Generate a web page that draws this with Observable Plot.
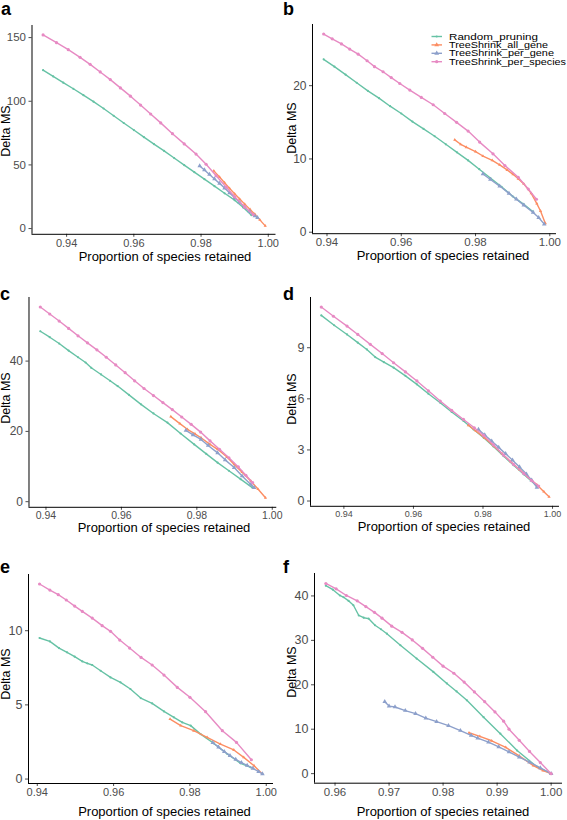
<!DOCTYPE html>
<html><head><meta charset="utf-8">
<script src="https://cdn.jsdelivr.net/npm/d3@7"></script>
<script src="https://cdn.jsdelivr.net/npm/@observablehq/plot@0.6"></script>
<style>
body{margin:0;background:#fff;}
#fig{position:relative;width:567px;height:820px;overflow:hidden;background:#fff;font-family:"Liberation Sans",Arial,Helvetica,sans-serif;}
#fig svg{position:absolute;}
</style></head><body><div id="fig"></div>
<script>
const seriesNames = ["Random_pruning","TreeShrink_all_gene","TreeShrink_per_gene","TreeShrink_per_species"];
const seriesColors = ["#66C2A5","#FC8D62","#8DA0CB","#E78AC3"];
const panelLetters = ["a","b","c","d","e","f"];
const xTitle = "Proportion of species retained";
const yTitle = "Delta MS";
const xTicksMain = [0.94,0.96,0.98,1.00];
const xTicksF = [0.96,0.97,0.98,0.99,1.00];
const yTicksA = [0,50,100,150];
const yTicksB = [0,10,20];
const yTicksC = [0,20,40];
const yTicksD = [0,3,6,9];
const yTicksE = [0,5,10];
const yTicksF = [0,10,20,30,40];

// ---- panel a ----
const a_random = [[0.9330,124.4],[0.9360,119.5],[0.9390,114.6],[0.9420,109.8],[0.9450,104.8],[0.9480,99.7],[0.9510,94.3],[0.9540,88.6],[0.9570,82.9],[0.9600,77.4],[0.9630,71.8],[0.9660,66.3],[0.9690,61.0],[0.9720,55.4],[0.9750,49.8],[0.9780,44.3],[0.9810,38.8],[0.9840,33.3],[0.9870,27.7],[0.9900,22.3],[0.9925,16.8],[0.9950,10.5]];
const a_allgene = [[0.9838,45.3],[0.9855,40.5],[0.9870,36.0],[0.9885,31.5],[0.9900,27.3],[0.9915,23.2],[0.9930,19.2],[0.9946,15.0],[0.9960,11.3],[0.9975,6.8],[0.9991,2.1]];
const a_pergene = [[0.9796,49.2],[0.9810,46.0],[0.9825,42.5],[0.9840,39.0],[0.9855,35.5],[0.9870,31.8],[0.9885,28.0],[0.9900,24.2],[0.9915,20.5],[0.9930,16.8],[0.9945,13.2],[0.9960,10.0],[0.9968,8.5]];
const a_species = [[0.9330,152.1],[0.9370,146.0],[0.9405,140.5],[0.9440,134.5],[0.9470,129.0],[0.9500,123.0],[0.9530,117.0],[0.9560,110.5],[0.9590,104.0],[0.9620,97.0],[0.9650,90.0],[0.9680,83.0],[0.9715,74.5],[0.9750,66.5],[0.9785,58.5],[0.9815,50.5],[0.9845,41.5],[0.9875,32.5],[0.9900,25.0],[0.9930,17.0],[0.9955,11.0]];

// ---- panel b ----
const b_random = [[0.9391,23.6],[0.9420,22.6],[0.9450,21.5],[0.9480,20.4],[0.9510,19.3],[0.9540,18.3],[0.9570,17.2],[0.9600,16.2],[0.9630,15.1],[0.9660,14.1],[0.9690,13.1],[0.9720,12.0],[0.9750,10.9],[0.9780,9.8],[0.9810,8.6],[0.9840,7.4],[0.9870,6.2],[0.9900,4.9],[0.9930,3.8],[0.9955,2.8]];
const b_allgene = [[0.9744,12.6],[0.9760,12.0],[0.9775,11.6],[0.9800,11.0],[0.9820,10.4],[0.9845,9.8],[0.9865,9.2],[0.9885,8.5],[0.9901,7.9],[0.9915,7.3],[0.9930,6.6],[0.9950,5.3],[0.9965,3.9],[0.9975,2.9],[0.9988,1.2]];
const b_pergene = [[0.9820,7.95],[0.9840,7.2],[0.9865,6.3],[0.9890,5.3],[0.9910,4.5],[0.9930,3.7],[0.9955,2.7],[0.9970,2.0],[0.9985,1.1]];
const b_species = [[0.9391,27.05],[0.9414,26.4],[0.9439,25.7],[0.9461,25.0],[0.9484,24.3],[0.9508,23.4],[0.9528,22.6],[0.9551,21.9],[0.9573,21.1],[0.9596,20.3],[0.9623,19.4],[0.9654,18.4],[0.9686,17.4],[0.9717,16.2],[0.9749,15.0],[0.9780,13.8],[0.9811,12.3],[0.9847,10.7],[0.9879,9.1],[0.9915,7.5],[0.9942,5.9],[0.9964,4.5]];

// ---- panel c ----
const c_random = [[0.9385,48.5],[0.9410,46.8],[0.9435,45.0],[0.9460,43.0],[0.9485,41.1],[0.9505,39.6],[0.9520,38.1],[0.9546,36.2],[0.9570,34.4],[0.9590,32.9],[0.9620,30.4],[0.9652,27.7],[0.9685,25.1],[0.9722,22.5],[0.9757,19.4],[0.9793,16.3],[0.9825,13.6],[0.9855,11.1],[0.9885,8.8],[0.9916,6.4],[0.9947,4.0]];
const c_allgene = [[0.9731,24.2],[0.9755,22.2],[0.9775,20.6],[0.9795,19.3],[0.9811,18.2],[0.9835,16.3],[0.9855,14.9],[0.9880,12.7],[0.9899,10.6],[0.9920,8.4],[0.9943,5.9],[0.9962,3.6],[0.9982,1.1]];
const c_pergene = [[0.9771,20.3],[0.9790,19.0],[0.9811,17.7],[0.9830,16.0],[0.9855,13.9],[0.9875,11.9],[0.9899,9.7],[0.9920,7.3],[0.9943,4.9],[0.9952,4.0]];
const c_species = [[0.9385,55.4],[0.9410,53.4],[0.9435,51.4],[0.9460,49.3],[0.9485,47.2],[0.9510,45.2],[0.9535,43.2],[0.9560,41.1],[0.9585,38.9],[0.9610,36.7],[0.9635,34.4],[0.9660,32.2],[0.9685,30.2],[0.9710,28.2],[0.9735,26.2],[0.9760,24.1],[0.9785,22.0],[0.9810,19.8],[0.9835,17.3],[0.9860,14.9],[0.9885,12.5],[0.9910,9.9],[0.9930,7.5],[0.9948,5.4]];

// ---- panel d ----
const d_random = [[0.9335,10.90],[0.9372,10.32],[0.9409,9.78],[0.9440,9.30],[0.9466,8.90],[0.9490,8.45],[0.9515,8.15],[0.9543,7.83],[0.9577,7.35],[0.9610,6.85],[0.9643,6.30],[0.9677,5.77],[0.9710,5.23],[0.9744,4.70],[0.9773,4.20],[0.9802,3.72],[0.9830,3.20],[0.9859,2.64],[0.9888,2.10],[0.9917,1.57],[0.9955,0.88]];
const d_allgene = [[0.9758,4.45],[0.9780,4.10],[0.9805,3.70],[0.9830,3.25],[0.9855,2.78],[0.9880,2.30],[0.9905,1.85],[0.9930,1.40],[0.9955,0.95],[0.9975,0.55],[0.9990,0.25]];
const d_pergene = [[0.9787,4.20],[0.9805,3.88],[0.9825,3.52],[0.9845,3.15],[0.9865,2.78],[0.9885,2.40],[0.9905,2.00],[0.9925,1.58],[0.9940,1.22],[0.9955,0.80]];
const d_species = [[0.9335,11.39],[0.9370,10.85],[0.9409,10.27],[0.9440,9.78],[0.9476,9.20],[0.9510,8.66],[0.9543,8.12],[0.9577,7.58],[0.9610,7.05],[0.9643,6.47],[0.9677,5.87],[0.9710,5.32],[0.9744,4.79],[0.9775,4.30],[0.9802,3.85],[0.9830,3.30],[0.9859,2.70],[0.9888,2.15],[0.9917,1.62],[0.9940,1.20],[0.9960,0.88]];

// ---- panel e ----
const e_random = [[0.9406,9.51],[0.9433,9.28],[0.9457,8.83],[0.9478,8.54],[0.9498,8.25],[0.9518,7.93],[0.9531,7.80],[0.9544,7.69],[0.9566,7.30],[0.9592,6.85],[0.9618,6.52],[0.9644,6.07],[0.9671,5.46],[0.9701,5.10],[0.9732,4.56],[0.9758,4.16],[0.9780,3.82],[0.9802,3.60],[0.9828,3.03],[0.9863,2.40],[0.9898,1.69],[0.9933,1.06],[0.9959,0.79]];
const e_allgene = [[0.9748,4.04],[0.9776,3.60],[0.9810,3.26],[0.9845,2.81],[0.9880,2.36],[0.9915,1.96],[0.9941,1.46],[0.9968,0.90],[0.9990,0.34]];
const e_pergene = [[0.9860,2.45],[0.9875,2.15],[0.9890,1.85],[0.9905,1.58],[0.9920,1.32],[0.9935,1.10],[0.9950,0.92],[0.9965,0.72],[0.9980,0.50],[0.9990,0.35]];
const e_species = [[0.9406,13.15],[0.9433,12.74],[0.9455,12.43],[0.9476,12.07],[0.9498,11.66],[0.9518,11.30],[0.9544,10.85],[0.9570,10.34],[0.9592,9.96],[0.9616,9.37],[0.9642,8.83],[0.9672,8.20],[0.9701,7.69],[0.9732,7.01],[0.9767,6.18],[0.9800,5.51],[0.9841,4.54],[0.9885,3.26],[0.9922,2.47],[0.9961,1.30]];

// ---- panel f ----
const f_random = [[0.9583,42.3],[0.9596,41.4],[0.9609,40.1],[0.9616,39.7],[0.9625,38.9],[0.9634,37.9],[0.9644,35.6],[0.9653,35.1],[0.9662,34.9],[0.9674,33.4],[0.9685,32.5],[0.9696,31.5],[0.9721,28.9],[0.9751,25.9],[0.9782,22.9],[0.9807,20.3],[0.9825,18.5],[0.9844,16.5],[0.9875,12.7],[0.9906,9.0],[0.9937,5.2],[0.9974,1.5],[1.0000,0.0]];
const f_allgene = [[0.9848,9.2],[0.9868,8.4],[0.9890,7.4],[0.9916,5.9],[0.9941,4.0],[0.9967,1.8],[0.9985,0.7],[1.0000,0.0]];
const f_pergene = [[0.9692,16.2],[0.9700,15.2],[0.9711,15.0],[0.9730,14.2],[0.9749,13.5],[0.9768,12.5],[0.9788,11.7],[0.9810,10.8],[0.9832,9.7],[0.9852,8.6],[0.9864,8.0],[0.9884,7.1],[0.9903,6.0],[0.9922,4.9],[0.9941,3.7],[0.9960,2.6],[0.9980,1.3],[1.0000,0.0]];
const f_species = [[0.9583,42.8],[0.9602,41.6],[0.9621,40.1],[0.9641,38.9],[0.9657,37.6],[0.9673,36.3],[0.9687,35.0],[0.9705,33.2],[0.9724,31.8],[0.9743,30.1],[0.9762,28.2],[0.9781,26.2],[0.9800,24.2],[0.9820,22.6],[0.9839,20.6],[0.9858,18.4],[0.9877,16.2],[0.9896,13.9],[0.9912,11.8],[0.9922,10.0],[0.9941,7.5],[0.9960,5.0],[0.9980,2.5],[1.0000,0.0]];

// ---- layout (frame edges in page pixels; domains include ggplot-style padding) ----
const panels = [
  {col:0, L:31.5, R:275.5, T:24.6, B:233.4, xd:[0.9297,1.0023], yd:[-4.5,159.5], xt:xTicksMain, yt:yTicksA, fx:11, fy:11.5, series:[a_random,a_allgene,a_pergene,a_species]},
  {col:1, L:312, R:556, T:24, B:233.2, xd:[0.9361,1.0018], yd:[-0.2,28.35], xt:xTicksMain, yt:yTicksB, fx:11.5, fy:12, series:[b_random,b_allgene,b_pergene,b_species]},
  {col:0, L:28.5, R:276.3, T:296.5, B:506.3, xd:[0.9355,1.0012], yd:[-1.6,58.1], xt:xTicksMain, yt:yTicksC, fx:10.5, fy:12, series:[c_random,c_allgene,c_pergene,c_species]},
  {col:1, L:310, R:559, T:296.5, B:505.3, xd:[0.9304,1.002], yd:[-0.31,11.95], xt:xTicksMain, yt:yTicksD, fx:9, fy:12.5, series:[d_random,d_allgene,d_pergene,d_species]},
  {col:0, L:28, R:273, T:573.8, B:782.8, xd:[0.9377,1.0019], yd:[-0.3,13.79], xt:xTicksMain, yt:yTicksE, fx:11, fy:12.5, series:[e_random,e_allgene,e_pergene,e_species]},
  {col:1, L:314, R:562, T:572.9, B:782.6, xd:[0.9562,1.0021], yd:[-2.15,45.05], xt:xTicksF, yt:yTicksF, fx:11.5, fy:12.5, series:[f_random,f_allgene,f_pergene,f_species]}
];
const symbols = ["circle","triangle","triangle","circle"];
const radii = [1.1,1.2,1.7,1.6];

const fig = document.getElementById("fig");
const fmt2 = d3.format(".2f");

function drawPanel(p) {
  const svgLeft = p.col === 0 ? 0 : 285;
  const ml = p.L - svgLeft, mt = 6, mr = 6, mb = 24;
  const marks = [
    Plot.axisX({ticks: p.xt, tickFormat: fmt2, tickSize: 3, tickPadding: 1.5, fontSize: p.fx, color: "#4d4d4d", label: null}),
    Plot.axisY({ticks: p.yt, tickSize: 3, tickPadding: 3, fontSize: p.fy, color: "#4d4d4d", label: null}),
    Plot.ruleX([p.xd[0]], {stroke: "#000", strokeWidth: 1}),
    Plot.ruleY([p.yd[0]], {stroke: "#000", strokeWidth: 1})
  ];
  p.series.forEach((s, i) => {
    marks.push(Plot.line(s, {x: d => d[0], y: d => d[1], stroke: seriesColors[i], strokeWidth: 1.4}));
    marks.push(Plot.dot(s, {x: d => d[0], y: d => d[1], fill: seriesColors[i], r: radii[i], symbol: symbols[i]}));
  });
  const chart = Plot.plot({
    width: p.R - svgLeft + mr,
    height: p.B - p.T + mt + mb,
    marginLeft: ml, marginRight: mr, marginTop: mt, marginBottom: mb,
    style: "background:none;overflow:visible;max-width:none;font-family:'Liberation Sans',Arial,sans-serif;",
    x: {type: "linear", domain: p.xd},
    y: {type: "linear", domain: p.yd},
    marks
  });
  chart.style.left = svgLeft + "px";
  chart.style.top = (p.T - mt) + "px";
  fig.appendChild(chart);
}
panels.forEach(drawPanel);

// ---- overlay text: panel letters, axis titles, legend ----
const textPos = [
  {lx:1, ly:15, tx:165, ty:260.5, yx:10, yy:131},
  {lx:283, ly:15, tx:443, ty:260, yx:296, yy:128},
  {lx:0, ly:300, tx:164, ty:532, yx:10, yy:398},
  {lx:283, ly:300, tx:444, ty:530.5, yx:296, yy:399},
  {lx:0, ly:573, tx:164.5, ty:815.5, yx:10, yy:674},
  {lx:283, ly:573, tx:443, ty:815.5, yx:296, yy:672}
];
const ov = d3.select(fig).append("svg")
  .attr("width", 567).attr("height", 820)
  .style("left", "0px").style("top", "0px").style("overflow", "visible")
  .style("font-family", "'Liberation Sans',Arial,sans-serif");
textPos.forEach((t, i) => {
  ov.append("text").attr("x", t.lx).attr("y", t.ly).attr("font-size", 18).attr("font-weight", "bold").attr("fill", "#000").text(panelLetters[i]);
  ov.append("text").attr("x", t.tx).attr("y", t.ty).attr("font-size", 13).attr("text-anchor", "middle").attr("fill", "#000").text(xTitle);
  ov.append("text").attr("transform", `translate(${t.yx},${t.yy}) rotate(-90)`).attr("font-size", 12.5).attr("text-anchor", "middle").attr("fill", "#000").text(yTitle);
});
const leg = ov.append("g");
const legRows = [36.5, 44.9, 53.3, 61.7];
const legWidths = [89, 99, 105, 117];
seriesNames.forEach((name, i) => {
  const y = legRows[i];
  leg.append("line").attr("x1", 431.5).attr("x2", 442).attr("y1", y).attr("y2", y).attr("stroke", seriesColors[i]).attr("stroke-width", 1.4);
  if (symbols[i] === "circle") {
    leg.append("circle").attr("cx", 436.7).attr("cy", y).attr("r", radii[i]).attr("fill", seriesColors[i]);
  } else {
    leg.append("path").attr("d", d3.symbol(d3.symbolTriangle, 10)()).attr("transform", `translate(436.7,${y})`).attr("fill", seriesColors[i]);
  }
  leg.append("text").attr("x", 449).attr("y", y).attr("dy", "0.35em").attr("font-size", 8.6)
    .attr("textLength", legWidths[i]).attr("lengthAdjust", "spacingAndGlyphs")
    .attr("fill", "#000").text(name);
});
</script></body></html>
